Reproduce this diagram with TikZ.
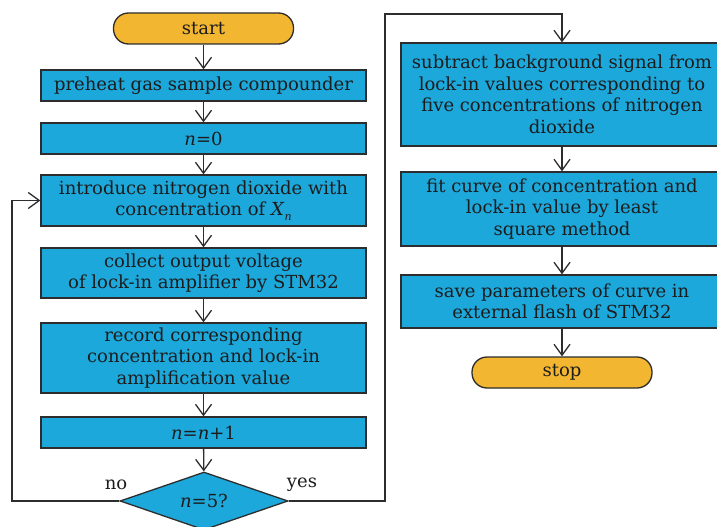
\documentclass[tikz,border=0pt]{standalone}
\usepackage{fontspec}
\setmainfont{DejaVu Serif}
\usetikzlibrary{shapes.geometric,arrows.meta}
\definecolor{boxblue}{RGB}{29,168,219}
\definecolor{pillorange}{RGB}{242,182,48}
\definecolor{edge}{RGB}{45,45,45}
\definecolor{ink}{RGB}{28,28,28}
\tikzset{
  base/.style={draw=edge,line width=1.3pt,inner sep=0pt,align=center,text=ink,
    font=\fontsize{18}{21.5}\selectfont},
  stepbox/.style={base,fill=boxblue,minimum width=#1},
  stepbox/.default=325pt,
  pill/.style={base,fill=pillorange,rounded corners=15pt,minimum width=180pt,minimum height=31pt},
  decision/.style={base,fill=boxblue,shape=diamond,aspect=2.9,minimum width=168pt,minimum height=58pt},
  arr/.style={draw=edge,line width=1.3pt,-{Straight Barb[length=11pt,width=16pt,line width=1.3pt]}},
  lbl/.style={text=ink,font=\fontsize{18}{21.5}\selectfont}
}
\begin{document}
\begin{tikzpicture}[x=1pt,y=-1pt]
\useasboundingbox (0,0) rectangle (717,527);
\clip (0,0) rectangle (717,527);
% left column
\node[pill] (start) at (203.5,28.5) {start};
\node[stepbox,minimum height=31pt] (pre) at (203.5,85.5) {preheat gas sample compounder};
\node[stepbox,minimum height=31pt] (n0) at (203.5,138.5) {\textit{n}=0};
\node[stepbox,minimum height=51pt] (intro) at (203.5,200.5) {introduce nitrogen dioxide with\\concentration of \textit{X}\raisebox{-5pt}{\fontsize{11}{11}\selectfont\textit{n}}};
\node[stepbox,minimum height=50pt] (coll) at (203.5,273) {collect output voltage\\of lock-in amplifier by STM32};
\node[stepbox,minimum height=70pt] (rec) at (203.5,358) {record corresponding\\concentration and lock-in\\amplification value};
\node[stepbox,minimum height=31pt] (inc) at (203.5,432.5) {\textit{n}=\textit{n}+1};
\node[decision] (dec) at (204,501) {\textit{n}=5?};
\node[lbl] (no) at (116,485) {no};
\node[lbl] (yes) at (302,485) {yes};
% right column
\node[stepbox=322pt,minimum height=103pt] (sub) at (562,94.5) {subtract background signal from\\lock-in values corresponding to\\five concentrations of nitrogen\\dioxide};
\node[stepbox=322pt,minimum height=74pt] (fit) at (562,209) {fit curve of concentration and\\lock-in value by least\\square method};
\node[stepbox=322pt,minimum height=53pt] (save) at (562,301.5) {save parameters of curve in\\external flash of STM32};
\node[pill] (stop) at (562,372.5) {stop};
% arrows
\draw[arr] (start) -- (pre);
\draw[arr] (pre) -- (n0);
\draw[arr] (n0) -- (intro);
\draw[arr] (intro) -- (coll);
\draw[arr] (coll) -- (rec);
\draw[arr] (rec) -- (inc);
\draw[arr] (inc) -- (dec);
\coordinate (lb) at (12,501);
\coordinate (lt) at (12,200.5);
\draw[arr] (dec.west) -- (lb) -- (lt) -- (intro.west);
\coordinate (rb) at (385,501);
\coordinate (rt) at (385,14);
\coordinate (rr) at (562,14);
\draw[arr] (dec.east) -- (rb) -- (rt) -- (rr) -- (sub.north);
\draw[arr] (sub) -- (fit);
\draw[arr] (fit) -- (save);
\draw[arr] (save) -- (stop);
\end{tikzpicture}
\end{document}
